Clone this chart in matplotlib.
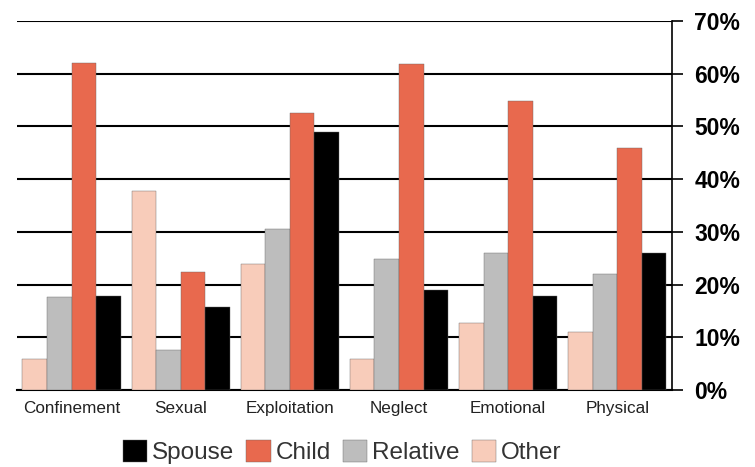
import matplotlib.pyplot as plt
import numpy as np
from matplotlib.ticker import FuncFormatter

categories = ["Confinement", "Sexual", "Exploitation", "Neglect", "Emotional", "Physical"]
other = [5.8, 37.8, 23.9, 5.8, 12.7, 11.0]
relative = [17.7, 7.5, 30.5, 24.8, 25.9, 22.0]
child = [62.0, 22.3, 52.5, 61.9, 54.9, 46.0]
spouse = [17.8, 15.8, 49.0, 19.0, 17.8, 25.9]

plt.rcParams["font.family"] = ["Liberation Sans", "DejaVu Sans"]

fig = plt.figure(figsize=(7.55, 4.67), dpi=100)
ax = fig.add_axes([0.0225, 0.165, 0.8675, 0.790])

x = np.arange(len(categories))
w = 0.225
series = [
    ("Other", other, "#F8CCBA"),
    ("Relative", relative, "#BDBDBD"),
    ("Child", child, "#E8694E"),
    ("Spouse", spouse, "#000000"),
]
handles = {}
for i, (name, vals, color) in enumerate(series):
    bars = ax.bar(x + (i - 1.5) * w, vals, width=w, color=color,
                  edgecolor="#666666", linewidth=0.3, zorder=3)
    handles[name] = bars

ax.set_xlim(-0.5, len(categories) - 0.5)
ax.set_ylim(0, 70)
ax.set_yticks(np.arange(0, 71, 10))
ax.yaxis.set_major_formatter(FuncFormatter(lambda v, _: f"{v:.0f}%"))
ax.yaxis.tick_right()
ax.tick_params(axis="y", direction="out", length=8, width=1.2, pad=8,
               labelsize=16.5, colors="black")
for lbl in ax.get_yticklabels():
    lbl.set_fontweight("bold")
ax.grid(axis="y", color="black", linewidth=1.5, zorder=0)
ax.set_axisbelow(True)

ax.set_xticks(x)
ax.set_xticklabels(categories, fontsize=12.3, color="#222222")
ax.tick_params(axis="x", length=0, pad=8)

for side in ["left", "top"]:
    ax.spines[side].set_visible(False)
ax.spines["right"].set_linewidth(1.2)
ax.spines["bottom"].set_linewidth(1.5)

order = ["Spouse", "Child", "Relative", "Other"]
fig.legend([handles[n] for n in order], order, loc="center",
           bbox_to_anchor=(0.453, 0.032), ncol=4, frameon=False,
           fontsize=17.5, handlelength=1.0, handleheight=1.0,
           handletextpad=0.2, columnspacing=0.5, labelcolor="#333333")

fig.savefig("out.png", dpi=100)
